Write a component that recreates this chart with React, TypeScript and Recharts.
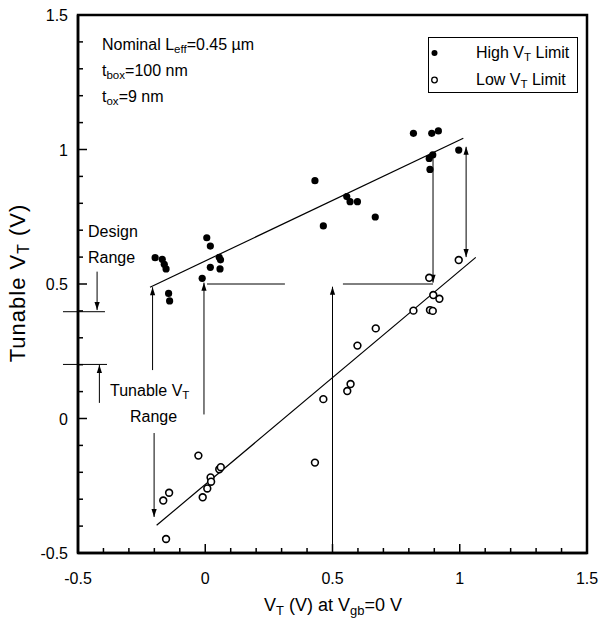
import React from "react";
import { ScatterChart, Scatter, XAxis, YAxis, ReferenceLine, ReferenceArea } from "recharts";

const highX = [-0.197, -0.169, -0.161, -0.154, -0.144, -0.14, 0.006, 0.02, 0.055, 0.06, 0.02, 0.058, -0.012, 0.431, 0.464, 0.556, 0.569, 0.598, 0.668, 0.818, 0.89, 0.916, 0.88, 0.894, 0.883, 0.996];
const highY = [0.598, 0.592, 0.573, 0.556, 0.465, 0.437, 0.672, 0.641, 0.599, 0.59, 0.562, 0.556, 0.521, 0.884, 0.716, 0.825, 0.806, 0.806, 0.749, 1.06, 1.06, 1.069, 0.967, 0.98, 0.926, 0.998];
const lowX = [0.996, 0.88, 0.896, 0.92, 0.818, 0.883, 0.894, 0.67, 0.598, 0.571, 0.558, 0.464, 0.431, -0.027, -0.142, -0.165, -0.154, 0.021, 0.023, 0.008, -0.01, 0.055, 0.061];
const lowY = [0.589, 0.523, 0.459, 0.445, 0.401, 0.403, 0.4, 0.335, 0.271, 0.128, 0.102, 0.072, -0.164, -0.138, -0.276, -0.305, -0.448, -0.219, -0.235, -0.26, -0.293, -0.189, -0.181];

// fitted lines (end points)
const highFit = [{ x: -0.217, y: 0.488 }, { x: 1.014, y: 1.042 }];
const lowFit = [{ x: -0.191, y: -0.397 }, { x: 1.063, y: 0.599 }];

const ticks = [-0.5, -0.4, -0.3, -0.2, -0.1, 0, 0.1, 0.2, 0.3, 0.4, 0.5, 0.6, 0.7, 0.8, 0.9, 1, 1.1, 1.2, 1.3, 1.4, 1.5];

// annotation arrows: [x1, y1, x2, y2, head] head: 0 none, 1 end, 2 both
const arrows: [number, number, number, number, number][] = [
  [-0.207, 0.18, -0.207, 0.488, 1],
  [-0.201, -0.054, -0.201, -0.366, 1],
  [-0.005, 0.015, -0.005, 0.505, 1],
  [0.007, 0.5, 0.313, 0.5, 0],
  [0.541, 0.5, 0.895, 0.5, 0],
  [0.895, 0.98, 0.895, 0.505, 1],
  [0.5, -0.5, 0.5, 0.49, 1],
  [1.025, 0.6, 1.025, 1.01, 2],
  [-0.559, 0.397, -0.394, 0.397, 0],
  [-0.559, 0.201, -0.386, 0.201, 0],
  [-0.425, 0.546, -0.425, 0.403, 1],
  [-0.416, 0.058, -0.416, 0.199, 1],
];

const highData = highX.map((x, i) => ({ x, y: highY[i] }));
const lowData = lowX.map((x, i) => ({ x, y: lowY[i] }));

const font = "'Liberation Sans', Arial, Helvetica, sans-serif";
const isMajor = (v: number) => Math.abs(v * 2 - Math.round(v * 2)) < 1e-6;

function YTick(props: any) {
  const { x, y, payload } = props;
  const v = payload.value;
  const major = isMajor(v);
  return (
    <g>
      <line x1={x} x2={x + (major ? 9 : 5)} y1={y} y2={y} stroke="#000" strokeWidth={1.5} />
      {major && (
        <text x={x - 10} y={y + 6} textAnchor="end" fontSize={16} fontFamily={font} fill="#000">
          {v}
        </text>
      )}
    </g>
  );
}

function XTick(props: any) {
  const { x, y, payload } = props;
  const v = payload.value;
  const major = isMajor(v);
  return (
    <g>
      <line x1={x} x2={x} y1={y} y2={y - (major ? 9 : 5)} stroke="#000" strokeWidth={1.5} />
      {major && (
        <text x={x} y={y + 31} textAnchor="middle" fontSize={16} fontFamily={font} fill="#000">
          {v}
        </text>
      )}
    </g>
  );
}

function head(x: number, y: number, fx: number, fy: number) {
  // arrow tip at (x,y), coming from (fx,fy)
  const dx = x - fx, dy = y - fy;
  const len = Math.hypot(dx, dy) || 1;
  const ux = dx / len, uy = dy / len;
  const L = 8, W = 2.6;
  const bx = x - ux * L, by = y - uy * L;
  return `${x},${y} ${bx - uy * W},${by + ux * W} ${bx + uy * W},${by - ux * W}`;
}

const arrowShape = (kind: number) => (p: any) => {
  const { x1, y1, x2, y2 } = p;
  return (
    <g>
      <line x1={x1} y1={y1} x2={x2} y2={y2} stroke="#000" strokeWidth={1} />
      {kind >= 1 && <polygon points={head(x2, y2, x1, y1)} fill="#000" />}
      {kind === 2 && <polygon points={head(x1, y1, x2, y2)} fill="#000" />}
    </g>
  );
};

const lineShape = (p: any) => <line x1={p.x1} y1={p.y1} x2={p.x2} y2={p.y2} stroke="#000" strokeWidth={1.2} />;

const sub = (t: string) => <span style={{ fontSize: "0.72em", verticalAlign: "-0.3em" }}>{t}</span>;

const abs = (left: number, top: number, extra: React.CSSProperties = {}): React.CSSProperties => ({
  position: "absolute",
  left,
  top,
  fontFamily: font,
  fontSize: 16,
  lineHeight: "18px",
  whiteSpace: "nowrap",
  color: "#000",
  ...extra,
});

export default function App() {
  return (
    <div style={{ position: "absolute", left: 0, top: 0, width: 602, height: 624, background: "#fff" }}>
      <ScatterChart width={602} height={624} margin={{ top: 15, right: 15, bottom: 41, left: 18 }}>
        <XAxis
          type="number"
          dataKey="x"
          domain={[-0.5, 1.5]}
          ticks={ticks}
          interval={0}
          allowDataOverflow
          height={30}
          tickSize={0}
          tickMargin={0}
          tickLine={false}
          tick={<XTick />}
          axisLine={{ stroke: "#000", strokeWidth: 2.5 }}
        />
        <YAxis
          type="number"
          dataKey="y"
          domain={[-0.5, 1.5]}
          ticks={ticks}
          interval={0}
          allowDataOverflow
          width={60}
          tickSize={0}
          tickMargin={0}
          tickLine={false}
          tick={<YTick />}
          axisLine={{ stroke: "#000", strokeWidth: 2.5 }}
        />
        <ReferenceArea x1={-0.5} x2={1.5} y1={-0.5} y2={1.5} fill="none" fillOpacity={0} stroke="#000" strokeWidth={2.5} ifOverflow="visible" />
        <ReferenceLine segment={highFit} ifOverflow="visible" shape={lineShape} />
        <ReferenceLine segment={lowFit} ifOverflow="visible" shape={lineShape} />
        {arrows.map((a, i) => (
          <ReferenceLine
            key={i}
            segment={[{ x: a[0], y: a[1] }, { x: a[2], y: a[3] }]}
            ifOverflow="visible"
            shape={arrowShape(a[4])}
          />
        ))}
        <Scatter
          data={highData}
          isAnimationActive={false}
          shape={(p: any) => <circle cx={p.cx} cy={p.cy} r={3.6} fill="#000" />}
        />
        <Scatter
          data={lowData}
          isAnimationActive={false}
          shape={(p: any) => <circle cx={p.cx} cy={p.cy} r={3.4} fill="#fff" stroke="#000" strokeWidth={1.6} />}
        />
      </ScatterChart>

      {/* parameters */}
      <div style={abs(102, 36)}>Nominal L{sub("eff")}=0.45 µm</div>
      <div style={abs(102, 62)}>t{sub("box")}=100 nm</div>
      <div style={abs(102, 88)}>t{sub("ox")}=9 nm</div>

      {/* legend */}
      <div style={{ position: "absolute", left: 428, top: 37, width: 150, height: 56, border: "1px solid #000", boxSizing: "border-box", background: "#fff" }}>
        <svg width={12} height={56} style={{ position: "absolute", left: 0, top: 0 }}>
          <circle cx={5.5} cy={15} r={3} fill="#000" />
          <circle cx={5.5} cy={42} r={2.8} fill="#fff" stroke="#000" strokeWidth={1.3} />
        </svg>
        <div style={abs(47, 6)}>High V{sub("T")} Limit</div>
        <div style={abs(47, 33)}>Low V{sub("T")} Limit</div>
      </div>

      {/* side annotations */}
      <div style={abs(88, 223)}>Design</div>
      <div style={abs(88, 249)}>Range</div>
      <div style={abs(110, 382)}>Tunable V{sub("T")}</div>
      <div style={abs(130, 408)}>Range</div>

      {/* axis titles */}
      <div style={abs(333, 608, { fontSize: 18, transform: "translate(-50%, -50%)" })}>
        V{sub("T")} (V) at V{sub("gb")}=0 V
      </div>
      <div style={abs(21, 283, { fontSize: 22, lineHeight: "22px", letterSpacing: 1, transform: "translate(-50%, -50%) rotate(-90deg)" })}>
        Tunable V{sub("T")} (V)
      </div>
    </div>
  );
}
